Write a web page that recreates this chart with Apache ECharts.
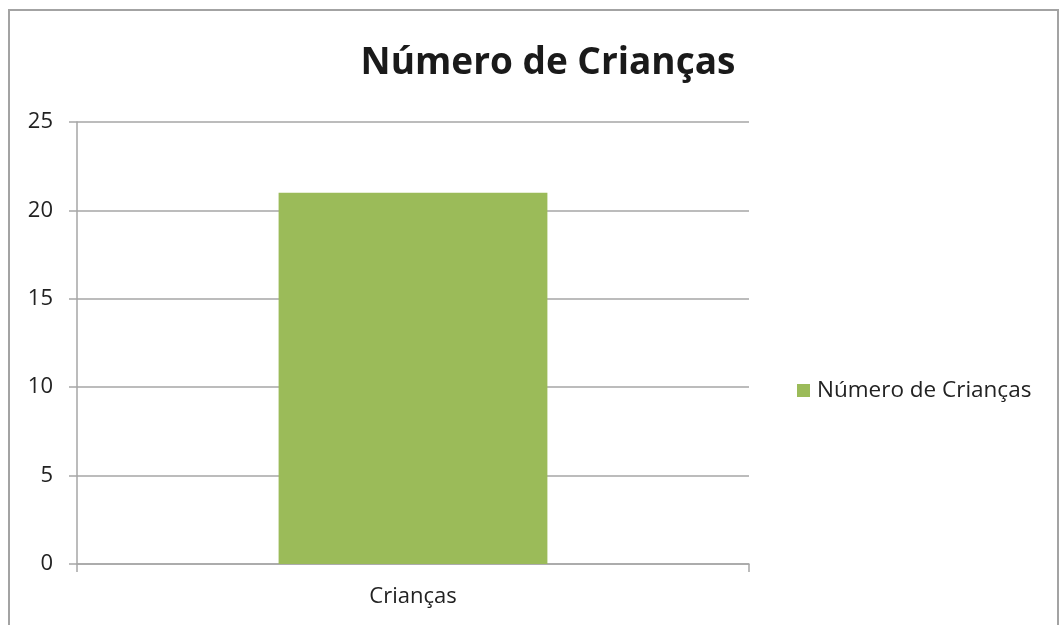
<!DOCTYPE html>
<html><head><meta charset="utf-8">
<script src="https://cdn.jsdelivr.net/npm/echarts@6/dist/echarts.min.js"></script>
<style>html,body{margin:0;padding:0;background:#fff}#c{width:1060px;height:625px}</style>
</head><body><div id="c"></div>
<script>
const categories = ['Crianças'];
const seriesName = 'Número de Crianças';
const values = [21];
const yTicks = [0, 5, 10, 15, 20, 25];

const chart = echarts.init(document.getElementById('c'));
const font = '"Open Sans", "Noto Sans", sans-serif';
chart.setOption({
  animation: false,
  backgroundColor: '#fff',
  title: {
    text: 'Número de Crianças', left: 543, top: 40, textAlign: 'center',
    textStyle: { fontFamily: font, fontSize: 37, fontWeight: 'bold', color: '#1a1a1a' }
  },
  graphic: [{
    type: 'rect', shape: { x: 9, y: 10, width: 1049, height: 700 },
    style: { fill: 'none', stroke: '#a3a3a3', lineWidth: 2 }, silent: true
  }],
  legend: {
    orient: 'vertical', left: 792, top: 374, itemWidth: 13, itemHeight: 13, itemGap: 6,
    icon: 'rect',
    textStyle: { fontFamily: font, fontSize: 22.5, color: '#222', padding: [0, 0, 0, 2] },
    data: [seriesName]
  },
  grid: { left: 77, right: 311, top: 122, bottom: 61 },
  xAxis: {
    type: 'category', data: categories,
    axisLine: { lineStyle: { color: '#a6a6a6', width: 1.5 } },
    axisTick: { show: true, length: 8, lineStyle: { color: '#a6a6a6', width: 1.5 } },
    axisLabel: { fontFamily: font, fontSize: 22, color: '#222', margin: 22 }
  },
  yAxis: {
    type: 'value', min: yTicks[0], max: yTicks[yTicks.length - 1], interval: 5,
    axisLine: { show: true, lineStyle: { color: '#a6a6a6', width: 1.5 } },
    axisTick: { show: true, length: 8, lineStyle: { color: '#a6a6a6', width: 1.5 } },
    splitLine: { lineStyle: { color: '#a6a6a6', width: 1.5 } },
    axisLabel: { fontFamily: font, fontSize: 22, color: '#222', margin: 24 }
  },
  series: [{
    name: seriesName, type: 'bar', data: values, barWidth: '40%',
    itemStyle: { color: '#9bbb59' }
  }]
});
</script></body></html>
